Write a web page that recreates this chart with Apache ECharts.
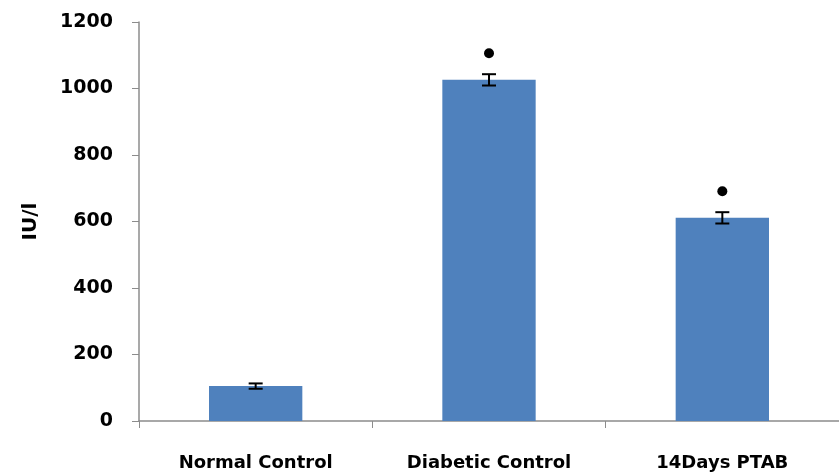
<!DOCTYPE html>
<html><head><meta charset="utf-8">
<script src="https://cdn.jsdelivr.net/npm/echarts@6/dist/echarts.min.js"></script>
<style>html,body{margin:0;padding:0;background:#fff}#c{width:839px;height:475px}</style>
</head><body><div id="c"></div>
<script>
const categories = ['Normal Control', 'Diabetic Control', '14Days PTAB'];
const values = [105, 1026, 611];
const errors = [8, 17, 17];
const significant = [false, true, true];
const yTicks = [0, 200, 400, 600, 800, 1000, 1200];

const font = "'DejaVu Sans', sans-serif";
const chart = echarts.init(document.getElementById('c'));
chart.setOption({
  animation: false,
  grid: { left: 139, right: 0, top: 22, bottom: 54 },
  xAxis: {
    type: 'category', data: categories,
    axisLine: { lineStyle: { color: '#8c8c8c', width: 1.5 } },
    axisTick: { show: true, alignWithLabel: false, length: 7, lineStyle: { color: '#8c8c8c' } },
    axisLabel: { color: '#000', fontFamily: font, fontWeight: 'bold', fontSize: 18, margin: 33, letterSpacing: -0.6 }
  },
  yAxis: {
    type: 'value', min: yTicks[0], max: yTicks[yTicks.length - 1], interval: 200,
    name: 'IU/l', nameLocation: 'middle', nameGap: 98, nameRotate: 90,
    nameTextStyle: { color: '#000', fontFamily: font, fontWeight: 'bold', fontSize: 20 },
    axisLine: { show: true, lineStyle: { color: '#8c8c8c', width: 1.5 } },
    axisTick: { show: true, length: 7, lineStyle: { color: '#8c8c8c' } },
    splitLine: { show: false },
    axisLabel: { color: '#000', fontFamily: font, fontWeight: 'bold', fontSize: 19, margin: 26, letterSpacing: -0.3,
      formatter: function (v) { return String(v); } }
  },
  series: [
    { type: 'bar', data: values, barWidth: '40%', itemStyle: { color: '#4F81BD' } },
    {
      type: 'custom', z: 10,
      data: values.map((v, i) => [i, v, errors[i], significant[i] ? 1 : 0]),
      renderItem: function (params, api) {
        const i = api.value(0), v = api.value(1), e = api.value(2), s = api.value(3);
        const top = api.coord([i, v + e]);
        const bot = api.coord([i, v - e]);
        const cap = 7;
        const style = { stroke: '#000', lineWidth: 2 };
        const children = [
          { type: 'line', shape: { x1: top[0], y1: top[1], x2: bot[0], y2: bot[1] }, style: style },
          { type: 'line', shape: { x1: top[0] - cap, y1: top[1], x2: top[0] + cap, y2: top[1] }, style: style },
          { type: 'line', shape: { x1: bot[0] - cap, y1: bot[1], x2: bot[0] + cap, y2: bot[1] }, style: style }
        ];
        if (s) {
          children.push({ type: 'circle', shape: { cx: top[0], cy: top[1] - 21, r: 5 }, style: { fill: '#000' } });
        }
        return { type: 'group', children: children };
      }
    }
  ]
});
</script></body></html>
